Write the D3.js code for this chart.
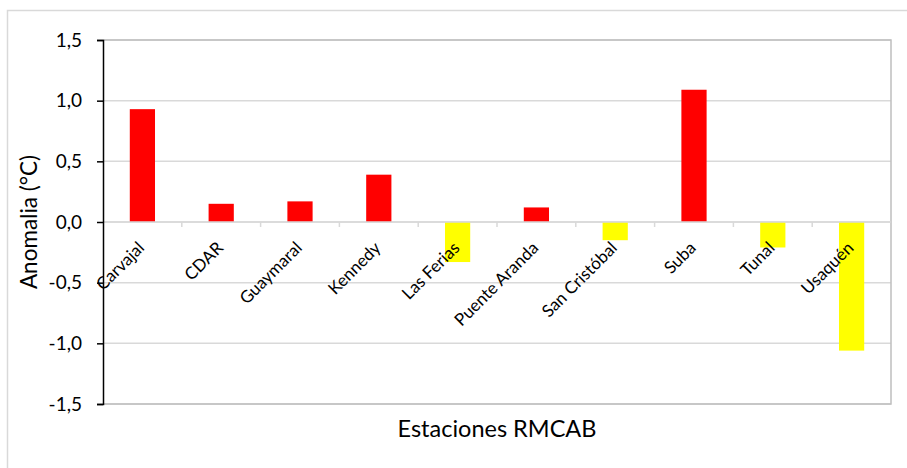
<!DOCTYPE html>
<html>
<head>
<meta charset="utf-8">
<script src="https://cdn.jsdelivr.net/npm/d3@7"></script>
<style>
  html, body { margin: 0; padding: 0; background: #fff; }
  svg { display: block; font-family: Lato, "Open Sans", sans-serif; }
</style>
</head>
<body>
<svg id="chart" width="907" height="468"></svg>
<script>
// Estaciones de la red de monitoreo y su anomalía de temperatura (°C)
const estaciones = ["Carvajal", "CDAR", "Guaymaral", "Kennedy", "Las Ferias",
                    "Puente Aranda", "San Cristóbal", "Suba", "Tunal", "Usaquén"];
const anomalia = [0.93, 0.15, 0.17, 0.39, -0.33, 0.12, -0.15, 1.09, -0.21, -1.06];
const yTicks = [-1.5, -1.0, -0.5, 0.0, 0.5, 1.0, 1.5];
const yLimits = [-1.5, 1.5];

const W = 907, H = 468;
const plot = { left: 103, right: 891, top: 40, bottom: 404 };

const svg = d3.select("#chart");

// marco exterior del gráfico
svg.append("rect")
  .attr("x", 7.5).attr("y", 10.5)
  .attr("width", W + 10).attr("height", H + 10)
  .attr("fill", "none").attr("stroke", "#d9d9d9").attr("stroke-width", 1.5);

const x = d3.scaleBand()
  .domain(estaciones)
  .range([plot.left, plot.right])
  .paddingInner(0.68)
  .paddingOuter(0.34);

const xCat = d3.scaleBand()
  .domain(estaciones)
  .range([plot.left, plot.right]);

const y = d3.scaleLinear()
  .domain(yLimits)
  .range([plot.bottom, plot.top]);

const fmt = v => d3.format(".1f")(v).replace(".", ",").replace("−", "-");

// líneas de cuadrícula horizontales
svg.append("g")
  .selectAll("line")
  .data(yTicks)
  .join("line")
  .attr("x1", plot.left).attr("x2", plot.right)
  .attr("y1", d => y(d)).attr("y2", d => y(d))
  .attr("stroke", "#d9d9d9").attr("stroke-width", 1.5);

// borde del área de trazado (arriba, derecha, abajo)
svg.append("path")
  .attr("d", `M${plot.left},${y(yLimits[1])}H${plot.right}V${y(yLimits[0])}H${plot.left}`)
  .attr("fill", "none").attr("stroke", "#bfbfbf").attr("stroke-width", 1.5);

// barras
svg.append("g")
  .selectAll("rect")
  .data(estaciones.map((e, i) => ({ e, v: anomalia[i] })))
  .join("rect")
  .attr("x", d => x(d.e))
  .attr("width", x.bandwidth())
  .attr("y", d => y(Math.max(0, d.v)))
  .attr("height", d => Math.abs(y(d.v) - y(0)))
  .attr("fill", d => d.v >= 0 ? "#ff0000" : "#ffff00");

// eje de categorías sobre el cero
const xAxis = svg.append("g")
  .attr("transform", `translate(0,${y(0)})`);
xAxis.append("line")
  .attr("x1", plot.left).attr("x2", plot.right)
  .attr("stroke", "#d9d9d9").attr("stroke-width", 1.5);
xAxis.selectAll("line.tick")
  .data(estaciones.slice(1))
  .join("line")
  .attr("class", "tick")
  .attr("x1", d => xCat(d)).attr("x2", d => xCat(d))
  .attr("y1", 0).attr("y2", 5)
  .attr("stroke", "#d9d9d9").attr("stroke-width", 1.5);
xAxis.selectAll("text")
  .data(estaciones)
  .join("text")
  .attr("transform", d => `translate(${xCat(d) + xCat.bandwidth() / 2 + 3},${27}) rotate(-45)`)
  .attr("text-anchor", "end")
  .attr("font-size", 17)
  .attr("fill", "#000")
  .text(d => d);

// eje vertical
const yAxis = d3.axisLeft(y)
  .tickValues(yTicks)
  .tickFormat(fmt)
  .tickSize(6)
  .tickPadding(15);
const gy = svg.append("g")
  .attr("transform", `translate(${plot.left},0)`)
  .call(yAxis);
gy.select(".domain").attr("stroke", "#000").attr("stroke-width", 1.5);
gy.selectAll(".tick line").attr("stroke", "#000").attr("stroke-width", 1.5);
gy.selectAll(".tick text")
  .attr("font-family", "Lato, 'Open Sans', sans-serif")
  .attr("font-size", 19).attr("fill", "#000");

// títulos de ejes
svg.append("text")
  .attr("x", (plot.left + plot.right) / 2)
  .attr("y", 437)
  .attr("text-anchor", "middle")
  .attr("font-size", 23.5)
  .attr("fill", "#000")
  .text("Estaciones RMCAB");

svg.append("text")
  .attr("transform", `translate(37,222) rotate(-90)`)
  .attr("text-anchor", "middle")
  .attr("font-size", 22.5)
  .attr("fill", "#000")
  .text("Anomalia (°C)");
</script>
</body>
</html>
